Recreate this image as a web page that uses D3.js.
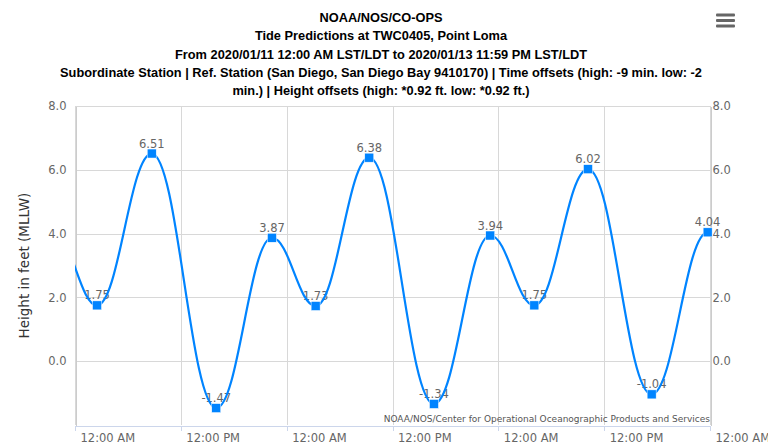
<!DOCTYPE html>
<html>
<head>
<meta charset="utf-8">
<script src="https://cdn.jsdelivr.net/npm/d3@7"></script>
<style>
  html, body { margin: 0; padding: 0; background: #fff; }
  svg { display: block; }
</style>
</head>
<body>
<svg id="chart" width="768" height="443"></svg>
<script>
// ---------- data ----------
const titleLines = [
  "NOAA/NOS/CO-OPS",
  "Tide Predictions at TWC0405, Point Loma",
  "From 2020/01/11 12:00 AM LST/LDT to 2020/01/13 11:59 PM LST/LDT",
  "Subordinate Station | Ref. Station (San Diego, San Diego Bay 9410170) | Time offsets (high: -9 min. low: -2",
  "min.) | Height offsets (high: *0.92 ft. low: *0.92 ft.)"
];
const yAxisTitle = "Height in feet (MLLW)";
const creditText = "NOAA/NOS/Center for Operational Oceanographic Products and Services";
const tideTimes = [
  "2020-01-10 15:10", "2020-01-10 21:45",
  "2020-01-11 02:30", "2020-01-11 08:42", "2020-01-11 16:01", "2020-01-11 22:20",
  "2020-01-12 03:17", "2020-01-12 09:22", "2020-01-12 16:42", "2020-01-12 23:05",
  "2020-01-13 04:05", "2020-01-13 10:10", "2020-01-13 17:23", "2020-01-13 23:44",
  "2020-01-14 05:00"
];
const tideHeights = [-1.50, 3.95, 1.75, 6.51, -1.47, 3.87, 1.73, 6.38, -1.34, 3.94, 1.75, 6.02, -1.04, 4.04, 1.85];
const xDomain = ["2020-01-11 00:00", "2020-01-14 00:00"];
const yDomain = [-2, 8];
const yTickValues = [0, 2, 4, 6, 8];

// ---------- setup ----------
const W = 768, H = 443;
const plot = { left: 75, right: 710, top: 106, bottom: 425 };
const parse = d3.utcParse("%Y-%m-%d %H:%M");
const data = tideTimes.map((t, i) => ({ t: parse(t), v: tideHeights[i] }));

const x = d3.scaleUtc().domain(xDomain.map(parse)).range([plot.left, plot.right]);
const y = d3.scaleLinear().domain(yDomain).range([plot.bottom, plot.top]);
const inRange = d => d.t >= x.domain()[0] && d.t <= x.domain()[1];
const hyphen = s => s.replace("\u2212", "-");

const svg = d3.select("#chart");
svg.append("rect").attr("width", W).attr("height", H).attr("fill", "#fff");

// Highcharts-style spline curve
function HCSpline(context) { this._context = context; }
HCSpline.prototype = {
  areaStart() {}, areaEnd() {},
  lineStart() { this._pts = []; },
  point(px, py) { this._pts.push([+px, +py]); },
  lineEnd() {
    const p = this._pts, n = p.length, c = this._context;
    if (!n) return;
    c.moveTo(p[0][0], p[0][1]);
    let lastRight = null;
    for (let i = 1; i < n; i++) {
      const [px, py] = p[i];
      let lcx = px, lcy = py, rc = null;
      if (i < n - 1) {
        const [lx, ly] = p[i - 1], [nx, ny] = p[i + 1];
        const s = 1.5, d = 2.5;
        lcx = (s * px + lx) / d; lcy = (s * py + ly) / d;
        let rcx = (s * px + nx) / d, rcy = (s * py + ny) / d, corr = 0;
        if (rcx !== lcx) corr = ((rcy - lcy) * (rcx - px)) / (rcx - lcx) + py - rcy;
        lcy += corr; rcy += corr;
        if (lcy > ly && lcy > py) { lcy = Math.max(ly, py); rcy = 2 * py - lcy; }
        else if (lcy < ly && lcy < py) { lcy = Math.min(ly, py); rcy = 2 * py - lcy; }
        if (rcy > ny && rcy > py) { rcy = Math.max(ny, py); lcy = 2 * py - rcy; }
        else if (rcy < ny && rcy < py) { rcy = Math.min(ny, py); lcy = 2 * py - rcy; }
        rc = [rcx, rcy];
      }
      const a = lastRight || p[i - 1];
      c.bezierCurveTo(a[0], a[1], lcx, lcy, px, py);
      lastRight = rc;
    }
  }
};
const curveHC = ctx => new HCSpline(ctx);

// ---------- title ----------
const title = svg.append("g")
  .attr("font-family", "'Liberation Sans', Arial, sans-serif")
  .attr("font-weight", "bold").attr("font-size", "12.8px").attr("fill", "#000")
  .attr("text-anchor", "middle");
titleLines.forEach((t, i) => {
  title.append("text").attr("x", 381).attr("y", 22 + i * 18.3).text(t);
});

// hamburger menu
const menu = svg.append("g").attr("fill", "#666");
[15, 20.5, 26].forEach(yy => {
  menu.append("rect").attr("x", 716).attr("y", yy - 1.5).attr("width", 19).attr("height", 3).attr("rx", 1);
});

// ---------- grid ----------
const grid = svg.append("g").attr("stroke", "#d8d8d8").attr("stroke-width", 1).attr("shape-rendering", "crispEdges");
yTickValues.forEach(v => {
  grid.append("line").attr("x1", plot.left).attr("x2", plot.right)
    .attr("y1", Math.round(y(v)) + 0.5).attr("y2", Math.round(y(v)) + 0.5);
});
const xTicks = x.ticks(d3.utcHour.every(12));
xTicks.forEach(t => {
  grid.append("line").attr("x1", Math.round(x(t)) + 0.5).attr("x2", Math.round(x(t)) + 0.5)
    .attr("y1", plot.top).attr("y2", plot.bottom);
});

// ---------- axes ----------
const fontAxis = "'DejaVu Sans', Verdana, sans-serif";
const xAxis = svg.append("g").attr("transform", `translate(0,${plot.bottom + 0.5})`)
  .call(d3.axisBottom(x).tickValues(xTicks).tickFormat(d3.utcFormat("%I:%M %p")).tickSize(5).tickSizeOuter(0));
xAxis.select(".domain").attr("stroke", "#ccd6eb").attr("shape-rendering", "crispEdges");
xAxis.selectAll(".tick line").attr("stroke", "#ccd6eb").attr("shape-rendering", "crispEdges");
xAxis.selectAll(".tick text").attr("font-family", fontAxis).attr("font-size", "11.5px").attr("fill", "#666")
  .attr("text-anchor", "start").attr("x", 5).attr("y", 16).attr("dy", 0);

const yLeft = svg.append("g").attr("transform", `translate(${plot.left + 0.5},0)`)
  .call(d3.axisLeft(y).tickValues(yTickValues).tickFormat(d3.format(".1f")).tickSize(0).tickPadding(9));
yLeft.select(".domain").attr("stroke", "#ccc").attr("shape-rendering", "crispEdges");
yLeft.selectAll(".tick text").attr("font-family", fontAxis).attr("font-size", "11.5px").attr("fill", "#666");

const yRight = svg.append("g").attr("transform", `translate(${plot.right + 0.5},0)`)
  .call(d3.axisRight(y).tickValues(yTickValues).tickFormat(d3.format(".1f")).tickSize(0).tickPadding(2));
yRight.select(".domain").attr("stroke", "#ccc").attr("shape-rendering", "crispEdges");
yRight.selectAll(".tick text").attr("font-family", fontAxis).attr("font-size", "11.5px").attr("fill", "#666");

svg.append("text")
  .attr("transform", `translate(29,${(plot.top + plot.bottom) / 2}) rotate(-90)`)
  .attr("text-anchor", "middle").attr("font-family", fontAxis).attr("font-size", "13.5px").attr("fill", "#333")
  .text(yAxisTitle);

// ---------- series ----------
svg.append("clipPath").attr("id", "plotclip").append("rect")
  .attr("x", plot.left).attr("y", plot.top - 10).attr("width", plot.right - plot.left).attr("height", plot.bottom - plot.top + 10);

const shown = data.filter(inRange);

svg.append("g").selectAll("text").data(shown).join("text")
  .attr("x", d => x(d.t)).attr("y", d => y(d.v) - 6)
  .attr("text-anchor", "middle").attr("font-family", fontAxis).attr("font-size", "11.5px").attr("fill", "#666")
  .text(d => hyphen(d3.format(".2f")(d.v)));

const line = d3.line().x(d => x(d.t)).y(d => y(d.v)).curve(curveHC);
svg.append("path").datum(data).attr("clip-path", "url(#plotclip)")
  .attr("d", line).attr("fill", "none").attr("stroke", "#0084ff").attr("stroke-width", 2.2);

svg.append("g").selectAll("rect").data(shown).join("rect")
  .attr("x", d => x(d.t) - 4.5).attr("y", d => y(d.v) - 4.5).attr("width", 9).attr("height", 9)
  .attr("fill", "#0084ff").attr("stroke", "#fff").attr("stroke-width", 0.5);

// credit
svg.append("text").attr("x", plot.right).attr("y", 422).attr("text-anchor", "end")
  .attr("font-family", fontAxis).attr("font-size", "9px").attr("fill", "#555").text(creditText);
</script>
</body>
</html>
